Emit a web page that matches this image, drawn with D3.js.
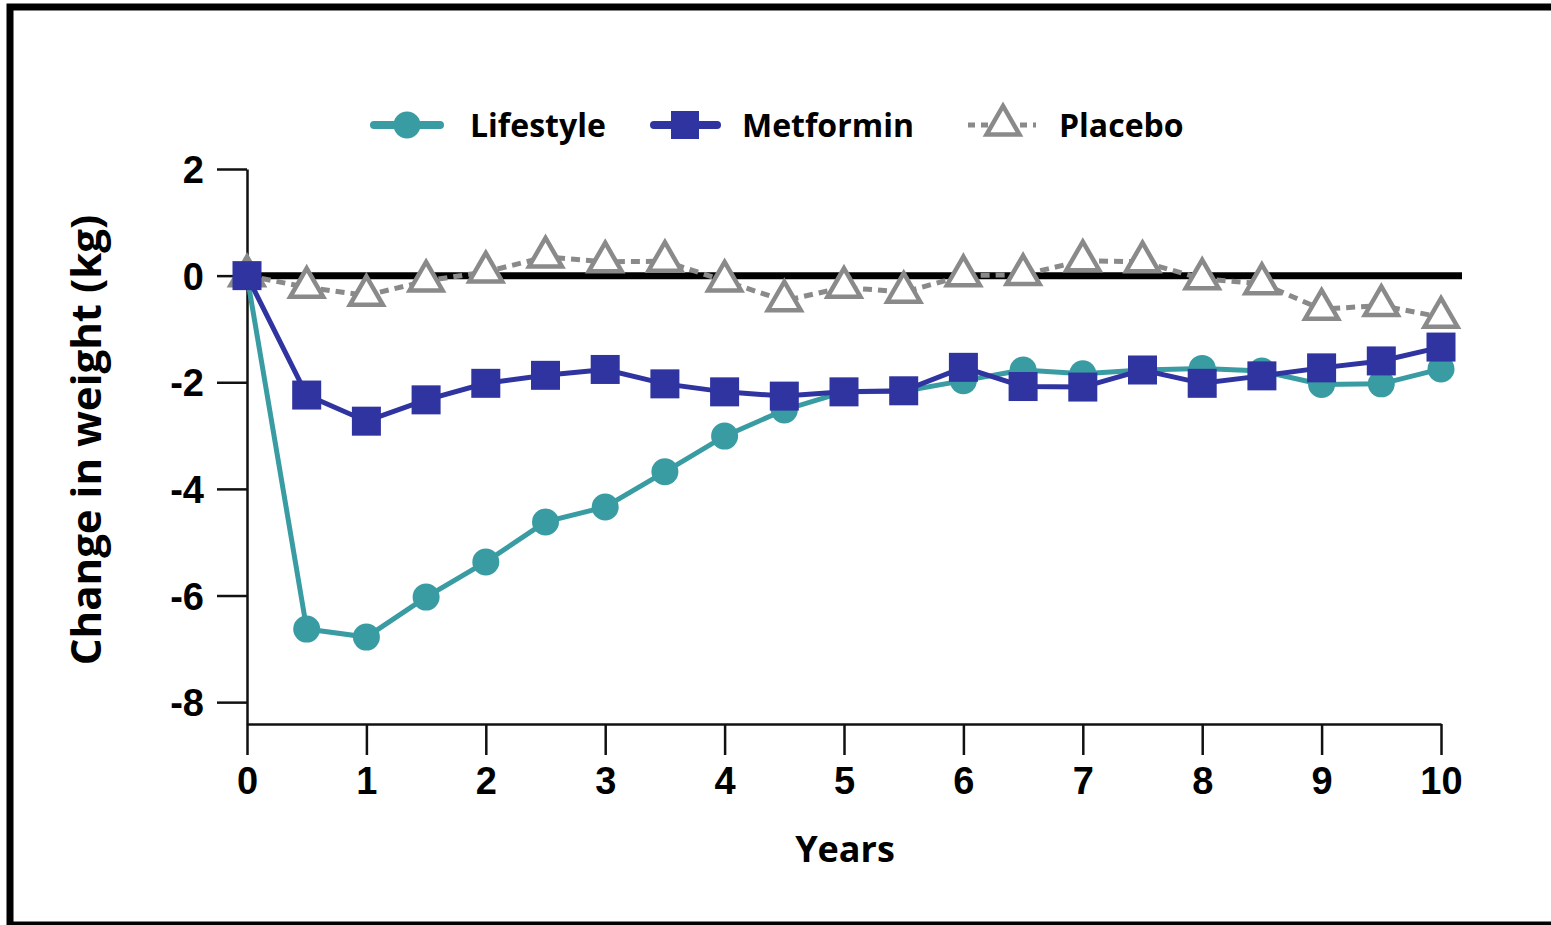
<!DOCTYPE html>
<html>
<head>
<meta charset="utf-8">
<script src="https://cdn.jsdelivr.net/npm/d3@7"></script>
<style>
  body { margin: 0; background: #fff; }
  svg { display: block; font-family: "Open Sans", sans-serif; }
  .tick text { font-weight: 700; fill: #000; }
  .tick line, .domain { stroke: #111; stroke-width: 2.5; }
</style>
</head>
<body>
<div id="chart"></div>
<script>
// values, one point every half year
const years = [0, 0.5, 1, 1.5, 2, 2.5, 3, 3.5, 4, 4.5, 5, 5.5, 6, 6.5, 7, 7.5, 8, 8.5, 9, 9.5, 10];
const lifestyle = [0, -6.63, -6.78, -6.03, -5.37, -4.62, -4.34, -3.68, -3.01, -2.52, -2.18, -2.17, -1.97, -1.77, -1.84, -1.77, -1.74, -1.79, -2.04, -2.03, -1.75];
const metformin = [0, -2.24, -2.73, -2.33, -2.02, -1.87, -1.76, -2.03, -2.18, -2.26, -2.18, -2.16, -1.72, -2.08, -2.09, -1.77, -2.02, -1.88, -1.73, -1.6, -1.34];
const placebo = [0, -0.22, -0.37, -0.1, 0.07, 0.35, 0.26, 0.27, -0.1, -0.47, -0.22, -0.31, 0, 0.02, 0.28, 0.26, -0.06, -0.15, -0.63, -0.56, -0.78];
const xTicks = [0, 1, 2, 3, 4, 5, 6, 7, 8, 9, 10];
const yTicks = [2, 0, -2, -4, -6, -8];

const width = 1551, height = 925;
const colors = {lifestyle: "#3a9ca3", metformin: "#2f34a0", placebo: "#8a8a8a"};

const svg = d3.select("#chart").append("svg").attr("width", width).attr("height", height);

// outer frame (right edge falls outside the picture)
svg.append("rect")
  .attr("x", 10).attr("y", 7).attr("width", 1700).attr("height", 918)
  .attr("fill", "none").attr("stroke", "#000").attr("stroke-width", 7);

const x = d3.scaleLinear().domain([0, 10]).range([247, 1441]);
const y = d3.scaleLinear().domain([-8.41, 2]).range([724, 169]);

svg.append("g")
  .attr("transform", "translate(247,0)")
  .call(d3.axisLeft(y).tickValues(yTicks).tickSizeInner(30).tickSizeOuter(0).tickPadding(13).tickFormat((d) => String(d)))
  .call((g) => g.selectAll("text").attr("font-size", 38).attr("dy", "0.36em"));

svg.append("g")
  .attr("transform", "translate(0,724)")
  .call(d3.axisBottom(x).tickValues(xTicks).tickSizeInner(31).tickSizeOuter(0).tickPadding(12))
  .call((g) => g.selectAll("text").attr("font-size", 38));

// zero reference line
svg.append("line")
  .attr("x1", x(0)).attr("x2", 1462)
  .attr("y1", y(0)).attr("y2", y(0))
  .attr("stroke", "#000").attr("stroke-width", 7);

const line = d3.line().x((d, i) => x(years[i])).y((d) => y(d));

// placebo
svg.append("path").datum(placebo)
  .attr("d", line).attr("fill", "none")
  .attr("stroke", colors.placebo).attr("stroke-width", 5).attr("stroke-dasharray", "9 6");

const tri = d3.symbol().type(d3.symbolTriangle).size(470);
svg.append("g").selectAll("path").data(placebo).join("path")
  .attr("d", tri)
  .attr("transform", (d, i) => `translate(${x(years[i])},${y(d)})`)
  .attr("fill", "#fff").attr("stroke", colors.placebo).attr("stroke-width", 4.5);

// lifestyle
svg.append("path").datum(lifestyle)
  .attr("d", line).attr("fill", "none")
  .attr("stroke", colors.lifestyle).attr("stroke-width", 5);
svg.append("g").selectAll("circle").data(lifestyle).join("circle")
  .attr("cx", (d, i) => x(years[i])).attr("cy", (d) => y(d)).attr("r", 13.5)
  .attr("fill", colors.lifestyle);

// metformin
svg.append("path").datum(metformin)
  .attr("d", line).attr("fill", "none")
  .attr("stroke", colors.metformin).attr("stroke-width", 5);
svg.append("g").selectAll("rect").data(metformin).join("rect")
  .attr("x", (d, i) => x(years[i]) - 14.5).attr("y", (d) => y(d) - 14.5)
  .attr("width", 29).attr("height", 29)
  .attr("fill", colors.metformin);

// legend
const legendY = 125;
const lg = svg.append("g");
lg.append("line").attr("x1", 374).attr("x2", 440).attr("y1", legendY).attr("y2", legendY)
  .attr("stroke", colors.lifestyle).attr("stroke-width", 8).attr("stroke-linecap", "round");
lg.append("circle").attr("cx", 407).attr("cy", legendY).attr("r", 13.5).attr("fill", colors.lifestyle);
lg.append("line").attr("x1", 654).attr("x2", 717).attr("y1", legendY).attr("y2", legendY)
  .attr("stroke", colors.metformin).attr("stroke-width", 8).attr("stroke-linecap", "round");
lg.append("rect").attr("x", 671).attr("y", legendY - 14).attr("width", 28).attr("height", 28).attr("fill", colors.metformin);
lg.append("line").attr("x1", 968).attr("x2", 1036).attr("y1", legendY).attr("y2", legendY)
  .attr("stroke", colors.placebo).attr("stroke-width", 5).attr("stroke-dasharray", "7 6");
lg.append("path").attr("d", tri).attr("transform", `translate(1003,${legendY})`)
  .attr("fill", "#fff").attr("stroke", colors.placebo).attr("stroke-width", 4.5);

const legendText = [["Lifestyle", 470], ["Metformin", 742], ["Placebo", 1059]];
lg.selectAll("text").data(legendText).join("text")
  .attr("x", (d) => d[1]).attr("y", legendY).attr("dy", "0.36em")
  .attr("font-size", 32).attr("font-weight", 700)
  .text((d) => d[0]);

// axis titles
svg.append("text")
  .attr("x", 845).attr("y", 862).attr("text-anchor", "middle")
  .attr("font-size", 36).attr("font-weight", 700)
  .text("Years");

svg.append("text")
  .attr("transform", "translate(101,440) rotate(-90)")
  .attr("text-anchor", "middle")
  .attr("font-size", 42).attr("font-weight", 700)
  .text("Change in weight (kg)");
</script>
</body>
</html>
